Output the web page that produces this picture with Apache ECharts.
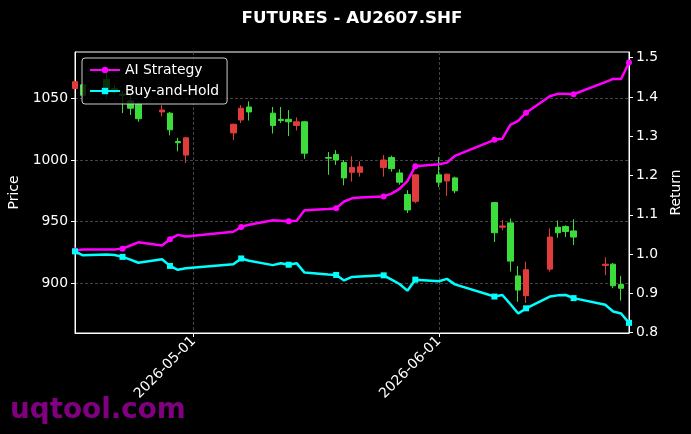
<!DOCTYPE html>
<html>
<head>
<meta charset="utf-8">
<script src="https://cdn.jsdelivr.net/npm/echarts@6/dist/echarts.min.js"></script>
<style>
html, body { margin: 0; padding: 0; background: #000; }
#chart { width: 691px; height: 434px; }
</style>
</head>
<body>
<div id="chart"></div>
<script>
// trading days shown as candles
var priceDates = [
  '2026-04-16', '2026-04-17', '2026-04-20', '2026-04-21', '2026-04-22', '2026-04-23', '2026-04-24',
  '2026-04-27', '2026-04-28', '2026-04-29', '2026-04-30',
  '2026-05-06', '2026-05-07', '2026-05-08', '2026-05-11', '2026-05-12', '2026-05-13', '2026-05-14',
  '2026-05-15', '2026-05-18', '2026-05-19', '2026-05-20', '2026-05-21', '2026-05-22', '2026-05-25',
  '2026-05-26', '2026-05-27', '2026-05-28', '2026-05-29',
  '2026-06-01', '2026-06-02', '2026-06-03', '2026-06-08', '2026-06-09', '2026-06-10', '2026-06-11',
  '2026-06-12', '2026-06-15', '2026-06-16', '2026-06-17', '2026-06-18', '2026-06-22', '2026-06-23',
  '2026-06-24'
];
var opens  = [1058, 1061, 1065.5, 1058, 1053.5, 1048, 1045.5, 1039, 1038, 1015, 1004,
              1022, 1032.5, 1043, 1038, 1033, 1033, 1028, 1031, 1002, 1004.5, 998, 990, 990, 994,
              1002, 989.5, 972, 966.5,
              988, 983, 985.5, 965.5, 945.5, 949, 906, 890, 911.5, 945.5, 946, 942.5, 914.5, 915.5, 899];
var closes = [1063.5, 1052.5, 1057.5, 1055, 1052.5, 1042, 1033.5, 1040.5, 1024.5, 1014, 1018,
              1029, 1042, 1039, 1028, 1032, 1031, 1031, 1005.5, 1001.5, 1000, 985.5, 994, 994.5, 1000,
              993, 982, 959.5, 988,
              982, 988.5, 975, 941, 946.5, 918, 894.5, 911, 937.5, 941, 942, 937.5, 915.5, 898, 896];
var lows   = [1057, 1051, 1051, 1053, 1038, 1036.5, 1031, 1035.5, 1020, 1007, 997.5,
              1016, 1030, 1032, 1021.5, 1030, 1019.5, 1024, 1001, 988, 996, 979.5, 982.5, 986.5, 986.5,
              990.5, 980, 957, 965,
              978, 971, 973, 933.5, 943, 909.5, 885, 884, 909.5, 937, 937.5, 931, 906.5, 896, 886];
var highs  = [1065, 1062, 1071, 1061, 1056, 1053, 1047, 1044.5, 1039, 1018, 1018.5,
              1029.5, 1044.5, 1047.5, 1043, 1043, 1040.5, 1034.5, 1031.5, 1006.5, 1008, 1000, 1003, 999, 1004,
              1003.5, 992.5, 975.5, 988.5,
              1002.5, 989, 986.5, 966, 951.5, 952.5, 914, 917.5, 944.5, 951, 947, 952, 921, 916.5, 906];

// return curves run one day further
var returnDates = priceDates.concat(['2026-06-25']);
var aiReturn = [1.009, 1.012, 1.012, 1.012, 1.014, 1.022, 1.030, 1.022, 1.038, 1.049, 1.045,
                1.057, 1.069, 1.075, 1.086, 1.085, 1.084, 1.085, 1.112, 1.115, 1.117, 1.134, 1.142, 1.144, 1.147,
                1.154, 1.166, 1.186, 1.224,
                1.229, 1.233, 1.250, 1.291, 1.294, 1.329, 1.339, 1.360, 1.402, 1.408, 1.408, 1.407, 1.438, 1.446, 1.446,
                1.488];
var bhReturn = [1.007, 0.997, 0.999, 0.998, 0.993, 0.986, 0.978, 0.987, 0.970, 0.960, 0.964,
                0.974, 0.989, 0.983, 0.972, 0.977, 0.973, 0.977, 0.953, 0.948, 0.947, 0.933, 0.942, 0.943, 0.946,
                0.935, 0.924, 0.907, 0.935,
                0.931, 0.937, 0.923, 0.892, 0.896, 0.873, 0.849, 0.862, 0.892, 0.895, 0.896, 0.888, 0.871, 0.854, 0.849,
                0.825];

var dateTicks = ['2026-05-01', '2026-06-01'];
var priceTicks = [900, 950, 1000, 1050];
var returnTicks = [0.8, 0.9, 1.0, 1.1, 1.2, 1.3, 1.4, 1.5];

var FONT = 'DejaVu Sans';
var UP = '#e03c3c', DOWN = '#3cdc3c';

function toTime(s) {
  var p = s.split('-');
  return new Date(+p[0], +p[1] - 1, +p[2]).getTime();
}
function pad(n) { return n < 10 ? '0' + n : '' + n; }
function fmtDate(t) {
  var d = new Date(t);
  return d.getFullYear() + '-' + pad(d.getMonth() + 1) + '-' + pad(d.getDate());
}

var candleData = priceDates.map(function (d, i) {
  return [toTime(d), opens[i], closes[i], lows[i], highs[i]];
});
var aiData = returnDates.map(function (d, i) { return [toTime(d), aiReturn[i]]; });
var bhData = returnDates.map(function (d, i) { return [toTime(d), bhReturn[i]]; });

// marker on every 4th point
function everyFourth(size) {
  return function (v, p) { return p.dataIndex % 4 === 0 ? size : 0; };
}

var gridLine = { show: true, lineStyle: { color: '#555', type: [3, 2], width: 0.8 } };

var myChart = echarts.init(document.getElementById('chart'));
var option = {
  backgroundColor: '#000',
  animation: false,
  title: {
    text: 'FUTURES - AU2607.SHF',
    left: 352,
    top: 10,
    padding: 0,
    textAlign: 'center',
    textStyle: { color: '#fff', fontSize: 16.7, fontWeight: 'bold', fontFamily: FONT }
  },
  legend: {
    data: ['AI Strategy', 'Buy-and-Hold'],
    orient: 'vertical',
    left: 82,
    top: 58,
    padding: [5, 8, 6, 7],
    itemWidth: 30,
    itemHeight: 8,
    itemGap: 7,
    backgroundColor: 'rgba(0,0,0,0.8)',
    borderColor: '#cccccc',
    borderWidth: 1,
    borderRadius: 3,
    textStyle: { color: '#fff', fontSize: 13.9, fontFamily: FONT }
  },
  grid: {
    left: 75, right: 62, top: 52, bottom: 101,
    outerBoundsMode: 'none',
    containLabel: false,
    show: true, borderColor: '#fff', borderWidth: 1, backgroundColor: 'transparent'
  },
  xAxis: {
    type: 'value',
    min: toTime('2026-04-16'),
    max: toTime('2026-06-25'),
    axisLine: { show: true, onZero: false, lineStyle: { color: '#fff', width: 1 } },
    axisTick: { show: true, length: 4, lineStyle: { color: '#fff' }, customValues: dateTicks.map(toTime) },
    axisLabel: {
      customValues: dateTicks.map(toTime),
      rotate: 45, margin: 6, color: '#fff', fontSize: 13.9, fontFamily: FONT,
      formatter: function (v) { return fmtDate(v); }
    },
    splitLine: gridLine
  },
  yAxis: [
    {
      type: 'value',
      position: 'left',
      min: 859.7,
      max: 1087.6,
      name: 'Price',
      nameLocation: 'middle',
      nameGap: 47,
      nameRotate: 90,
      nameTextStyle: { color: '#fff', fontSize: 13.9, fontFamily: FONT },
      axisLine: { show: true, lineStyle: { color: '#fff' } },
      axisTick: { show: true, length: 4, lineStyle: { color: '#fff' }, customValues: priceTicks },
      axisLabel: {
        customValues: priceTicks, margin: 7, color: '#fff', fontSize: 13.9, fontFamily: FONT,
        formatter: function (v) { return String(v); }
      },
      splitLine: gridLine
    },
    {
      type: 'value',
      position: 'right',
      min: 0.7992,
      max: 1.5146,
      name: 'Return',
      nameLocation: 'middle',
      nameGap: 32,
      nameRotate: 90,
      nameTextStyle: { color: '#fff', fontSize: 13.9, fontFamily: FONT },
      axisLine: { show: true, lineStyle: { color: '#fff' } },
      axisTick: { show: true, length: 4, lineStyle: { color: '#fff' }, customValues: returnTicks },
      axisLabel: {
        customValues: returnTicks, margin: 7, color: '#fff', fontSize: 13.9, fontFamily: FONT,
        formatter: function (v) { return v.toFixed(1); }
      },
      splitLine: { show: false }
    }
  ],
  series: [
    {
      name: 'Price',
      type: 'candlestick',
      xAxisIndex: 0,
      yAxisIndex: 0,
      barWidth: 6,
      encode: { x: 0, y: [1, 2, 3, 4] },
      itemStyle: { color: UP, color0: DOWN, borderColor: UP, borderColor0: DOWN, borderWidth: 1 },
      data: candleData
    },
    {
      name: 'AI Strategy',
      type: 'line',
      yAxisIndex: 1,
      data: aiData,
      symbol: 'circle',
      symbolSize: everyFourth(6),
      showAllSymbol: true,
      lineStyle: { color: '#ff00ff', width: 2.5 },
      itemStyle: { color: '#ff00ff' }
    },
    {
      name: 'Buy-and-Hold',
      type: 'line',
      yAxisIndex: 1,
      data: bhData,
      symbol: 'rect',
      symbolSize: everyFourth(6),
      showAllSymbol: true,
      lineStyle: { color: '#00ffff', width: 2.5 },
      itemStyle: { color: '#00ffff' }
    }
  ],
  graphic: [
    {
      type: 'text',
      left: 10,
      top: 397,
      style: { text: 'uqtool.com', fill: '#800080', font: 'bold 27.8px "DejaVu Sans"' }
    }
  ]
};
myChart.setOption(option);
</script>
</body>
</html>
